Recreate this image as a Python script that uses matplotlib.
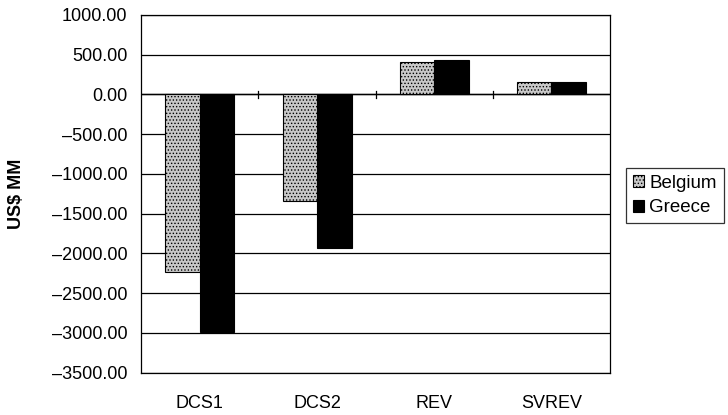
import numpy as np
import matplotlib
matplotlib.use("Agg")
import matplotlib.pyplot as plt

plt.rcParams['font.family'] = ['Liberation Sans', 'DejaVu Sans']
plt.rcParams['hatch.color'] = '#606060'
plt.rcParams['hatch.linewidth'] = 0.6

categories = ["DCS1", "DCS2", "REV", "SVREV"]
belgium = [-2230, -1335, 410, 155]
greece = [-2990, -1930, 435, 160]

fig = plt.figure(figsize=(7.28, 4.15), dpi=100)
ax = fig.add_axes([0.194, 0.102, 0.644, 0.862])

x = np.arange(len(categories))
w = 0.294
ax.bar(x - w / 2, belgium, w, color='#c8c8c8', hatch='.....', edgecolor='black',
       linewidth=0.8, label='Belgium', zorder=3)
ax.bar(x + w / 2, greece, w, color='black', edgecolor='black',
       linewidth=0.8, label='Greece', zorder=3)

ax.set_xlim(-0.5, len(categories) - 0.5)
ax.set_ylim(-3500, 1000)
yt = np.arange(-3500, 1001, 500)
ax.set_yticks(yt)
ax.set_yticklabels([f"{v:.2f}".replace('-', '\u2013') for v in yt], fontsize=13)
ax.yaxis.grid(True, color='black', linewidth=0.9, zorder=0)
ax.set_xticks(x)
ax.set_xticklabels(categories, fontsize=13)
ax.tick_params(axis='x', length=0, pad=16)
ax.tick_params(axis='y', length=0, pad=10)

# category separator ticks on the zero line
for b in np.arange(0.5, len(categories) - 0.5, 1):
    ax.plot([b, b], [-50, 40], color='black', linewidth=0.9, zorder=4)
ax.axhline(0, color='black', linewidth=1.0, zorder=2)

for s in ax.spines.values():
    s.set_linewidth(0.9)
    s.set_color('black')

ax.set_ylabel("US$ MM", fontsize=13, fontweight='bold', labelpad=19)

leg = ax.legend(loc='center left', bbox_to_anchor=(1.034, 0.495), fontsize=13.5,
                frameon=True, fancybox=False, edgecolor='black',
                handlelength=0.6, handleheight=0.6, handletextpad=0.3,
                borderpad=0.35, labelspacing=0.4, borderaxespad=0)
leg.get_frame().set_linewidth(0.9)

fig.savefig("out.png", dpi=100)
